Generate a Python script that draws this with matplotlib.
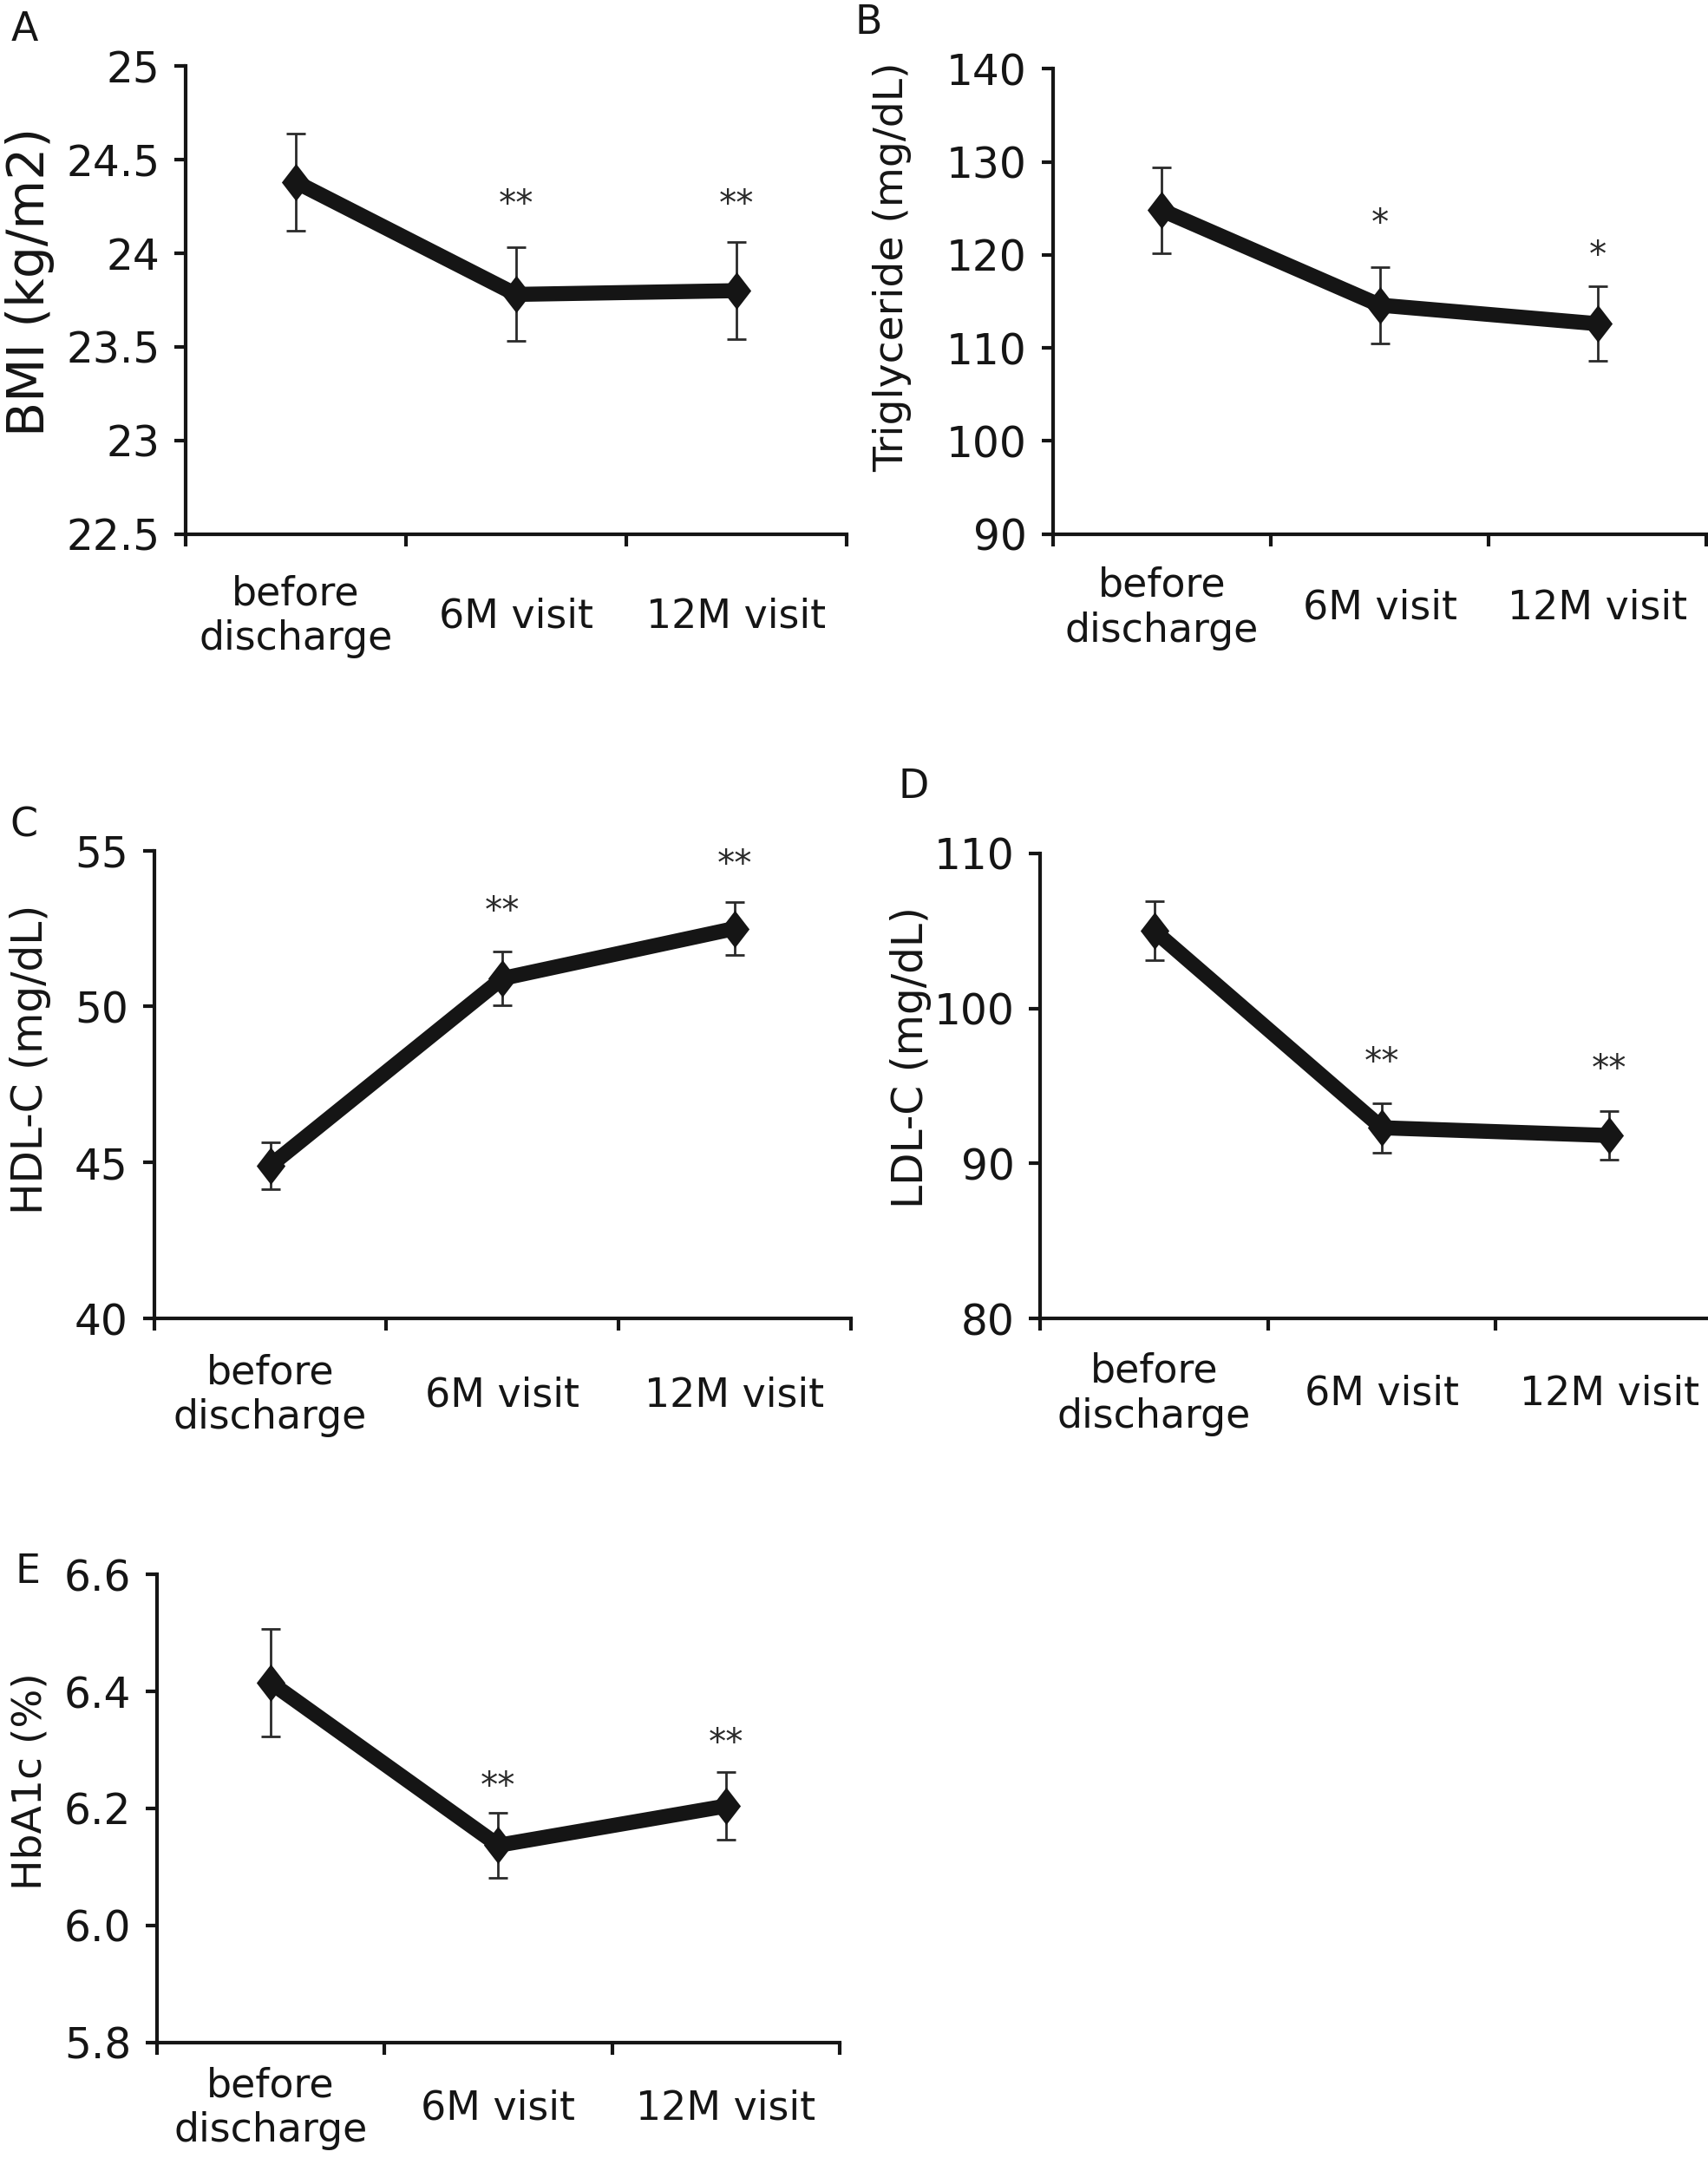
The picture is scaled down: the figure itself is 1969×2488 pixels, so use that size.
import numpy as np
import matplotlib
matplotlib.use("Agg")
import matplotlib.pyplot as plt
from matplotlib.path import Path

plt.rcParams["font.family"] = ["DejaVu Sans"]

visits = ["before\ndischarge", "6M visit", "12M visit"]

# means and error bars
bmi_mean = [24.38, 23.78, 23.80]
bmi_err = [0.26, 0.25, 0.26]
tg_mean = [124.8, 114.6, 112.6]
tg_err = [4.6, 4.1, 4.0]
hdl_mean = [44.9, 50.9, 52.5]
hdl_err = [0.75, 0.85, 0.85]
ldl_mean = [105.0, 92.3, 91.8]
ldl_err = [1.9, 1.6, 1.55]
hba1c_mean = [6.415, 6.137, 6.204]
hba1c_err = [0.092, 0.056, 0.058]

# significance marks (for 6M and 12M) and their heights
bmi_sig = ["**", "**"];   bmi_sig_y = [24.32, 24.32]
tg_sig = ["*", "*"];      tg_sig_y = [124.5, 121.1]
hdl_sig = ["**", "**"];   hdl_sig_y = [53.4, 54.9]
ldl_sig = ["**", "**"];   ldl_sig_y = [97.2, 96.8]
hba1c_sig = ["**", "**"]; hba1c_sig_y = [6.256, 6.331]

W, H = 1241.0, 1568.0   # layout measured on a 1241x1568 view

panels = [
    dict(letter="A", ylabel="BMI (kg/m2)", mean=bmi_mean, err=bmi_err, sig=bmi_sig, sig_y=bmi_sig_y,
         ylim=(22.5, 25), yticks=[22.5, 23, 23.5, 24, 24.5, 25], fmt="{:g}",
         box=(135, 48, 480, 340), lab=(22, 205), lab_fs=42, let=(18, 22), xoff=60),
    dict(letter="B", ylabel="Triglyceride (mg/dL)", mean=tg_mean, err=tg_err, sig=tg_sig, sig_y=tg_sig_y,
         ylim=(90, 140), yticks=[90, 100, 110, 120, 130, 140], fmt="{:g}",
         box=(765, 50, 475, 338), lab=(648, 194), lab_fs=34, let=(631, 17), xoff=54),
    dict(letter="C", ylabel="HDL-C (mg/dL)", mean=hdl_mean, err=hdl_err, sig=hdl_sig, sig_y=hdl_sig_y,
         ylim=(40, 55), yticks=[40, 45, 50, 55], fmt="{:g}",
         box=(112, 618, 506, 340), lab=(22, 770), lab_fs=35, let=(17, 600), xoff=56),
    dict(letter="D", ylabel="LDL-C (mg/dL)", mean=ldl_mean, err=ldl_err, sig=ldl_sig, sig_y=ldl_sig_y,
         ylim=(80, 110), yticks=[80, 90, 100, 110], fmt="{:g}",
         box=(756, 620, 496, 338), lab=(662, 768), lab_fs=35, let=(664, 572), xoff=55),
    dict(letter="E", ylabel="HbA1c (%)", mean=hba1c_mean, err=hba1c_err, sig=hba1c_sig, sig_y=hba1c_sig_y,
         ylim=(5.8, 6.6), yticks=[5.8, 6.0, 6.2, 6.4, 6.6], fmt="{:.1f}",
         box=(114, 1144, 496, 340), lab=(22, 1294), lab_fs=34, let=(20, 1142), xoff=48),
]

diamond = Path([(0, 1), (0.77, 0), (0, -1), (-0.77, 0), (0, 1)], closed=True)
ink = "#151515"
PX = 72.0 / 100 * (1969 / W)   # points per measured pixel

fig = plt.figure(figsize=(19.69, 24.88), dpi=100)
x = np.arange(len(visits))

for p in panels:
    l, t, w, h = p["box"]
    ax = fig.add_axes([l / W, 1 - (t + h) / H, w / W, h / H])
    ax.errorbar(x, p["mean"], yerr=p["err"], fmt="none", ecolor="#2a2a2a",
                elinewidth=2.0, capsize=8, capthick=2.0, zorder=2)
    ax.plot(x, p["mean"], "-", color=ink, lw=12.5, marker=diamond, ms=31,
            mew=0, mfc=ink, zorder=3, solid_joinstyle="round")
    for xi, s, sy in zip(x[1:], p["sig"], p["sig_y"]):
        ax.annotate(s, (xi, sy), xytext=(0, -10), textcoords="offset points",
                    ha="center", va="center", fontsize=29, color="#2a2a2a")
    ax.set_xlim(-0.5, 2.5)
    ax.set_ylim(*p["ylim"])
    ax.set_yticks(p["yticks"])
    ax.set_yticklabels([p["fmt"].format(v) for v in p["yticks"]])
    ax.set_xticks([-0.5, 0.5, 1.5, 2.5])
    ax.set_xticklabels([])
    for xi, lab in zip(x, visits):
        ax.annotate(lab, (xi, 0), xycoords=("data", "axes fraction"),
                    xytext=(0, -p["xoff"] * PX), textcoords="offset points",
                    ha="center", va="center", fontsize=33, color=ink,
                    linespacing=1.2)
    for side in ("top", "right"):
        ax.spines[side].set_visible(False)
    for side in ("left", "bottom"):
        ax.spines[side].set_linewidth(3)
        ax.spines[side].set_color(ink)
    ax.tick_params(axis="y", direction="out", length=9.5, width=3, pad=12,
                   labelsize=35, colors=ink)
    ax.tick_params(axis="x", direction="out", length=10, width=3, colors=ink)
    ax.set_facecolor("none")

    lx, ly = p["lab"]
    fig.text(lx / W, 1 - ly / H, p["ylabel"], rotation=90, ha="center",
             va="center", fontsize=p["lab_fs"], color=ink)
    fx, fy = p["let"]
    fig.text(fx / W, 1 - fy / H, p["letter"], ha="center", va="center",
             fontsize=33, color=ink)

fig.savefig("out.png", dpi=100, facecolor="white")
